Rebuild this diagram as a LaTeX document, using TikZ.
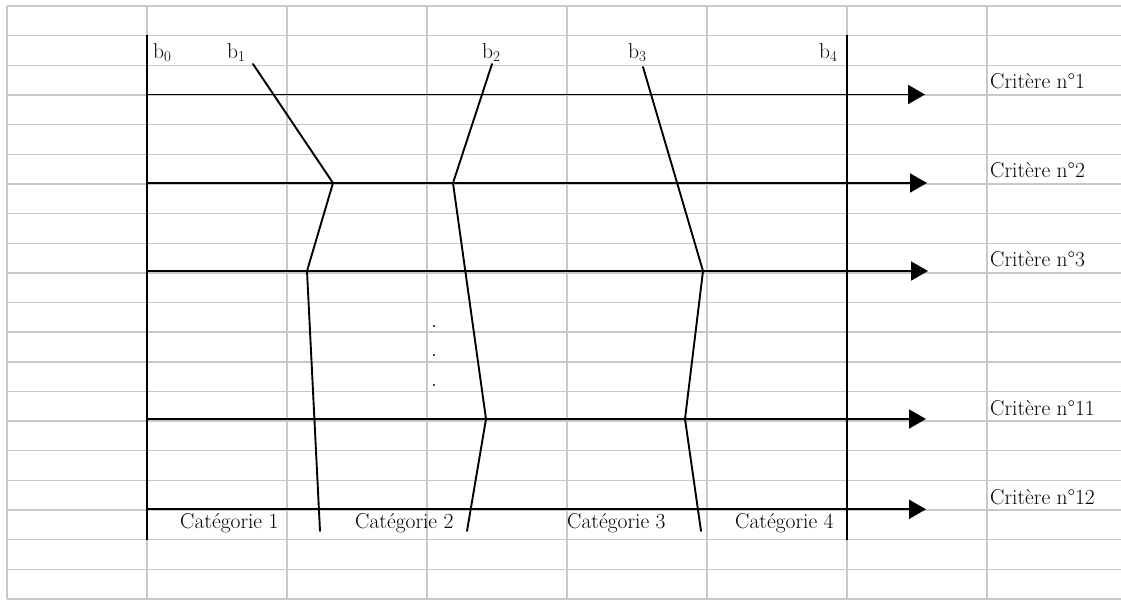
\documentclass[tikz,border=0pt]{standalone}
\usetikzlibrary{arrows.meta}
\begin{document}
\begin{tikzpicture}[x=1pt,y=-1pt,
  gridline/.style={draw={rgb,255:red,200;green,200;blue,200},line width=1.4pt},
  axis/.style={draw=black,line width=1.9pt},
  crit/.style={draw=black,line width=1.9pt,-{Triangle[length=17pt,width=19pt]}},
  brk/.style={draw=black,line width=1.9pt,line cap=round,line join=miter},
  lab/.style={inner sep=0pt,anchor=base west,font=\fontsize{21.5}{24}\selectfont},
  dotmark/.style={circle,fill=black,inner sep=0pt,minimum size=2.4pt}]
\useasboundingbox (0,0) rectangle (1121,600);
% spreadsheet grid
\foreach \k in {0,...,20}{
  \draw[gridline] (7,{6+29.65*\k}) -- (1121,{6+29.65*\k});
}
\foreach \xx in {7,147,287,427,567,707,847,987}{
  \draw[gridline] (\xx,6) -- (\xx,599);
}
% boundary verticals b0 and b4
\coordinate (b0top) at (147,34.5);
\coordinate (b0bot) at (147,540);
\coordinate (b4top) at (847,34.5);
\coordinate (b4bot) at (847,540);
\draw[axis] (b0top) -- (b0bot);
\draw[axis] (b4top) -- (b4bot);
% criteria arrows
\coordinate (c1s) at (147,94.5);  \coordinate (c1e) at (925,94.5);
\coordinate (c2s) at (147,183);   \coordinate (c2e) at (927,183);
\coordinate (c3s) at (147,271);   \coordinate (c3e) at (928,271);
\coordinate (c11s) at (147,419);  \coordinate (c11e) at (926,419);
\coordinate (c12s) at (147,509.3);\coordinate (c12e) at (926,509.3);
\draw[crit] (c1s) -- (c1e);
\draw[crit] (c2s) -- (c2e);
\draw[crit] (c3s) -- (c3e);
\draw[crit] (c11s) -- (c11e);
\draw[crit] (c12s) -- (c12e);
% break lines
\coordinate (p1a) at (253,64); \coordinate (p1b) at (333,183);
\coordinate (p1c) at (307,271); \coordinate (p1d) at (320,531);
\draw[brk] (p1a) -- (p1b) -- (p1c) -- (p1d);
\coordinate (p2a) at (492,64); \coordinate (p2b) at (453,183);
\coordinate (p2c) at (486,419); \coordinate (p2d) at (467,531);
\draw[brk] (p2a) -- (p2b) -- (p2c) -- (p2d);
\coordinate (p3a) at (643,67); \coordinate (p3b) at (703,271);
\coordinate (p3c) at (685,419); \coordinate (p3d) at (701,531);
\draw[brk] (p3a) -- (p3b) -- (p3c) -- (p3d);
% dots
\node[dotmark] (d1) at (434,326) {};
\node[dotmark] (d2) at (434,355) {};
\node[dotmark] (d3) at (434,385) {};
% labels
\node[lab] (lb0) at (153,58) {b\textsubscript{0}};
\node[lab] (lb1) at (227,58) {b\textsubscript{1}};
\node[lab] (lb2) at (482,58) {b\textsubscript{2}};
\node[lab] (lb3) at (628,58) {b\textsubscript{3}};
\node[lab] (lb4) at (819,58) {b\textsubscript{4}};
\node[lab] (k1) at (990,88) {Critère n°1};
\node[lab] (k2) at (990,177) {Critère n°2};
\node[lab] (k3) at (990,266) {Critère n°3};
\node[lab] (k11) at (990,415) {Critère n°11};
\node[lab] (k12) at (990,504) {Critère n°12};
\node[lab] (g1) at (180,528) {Catégorie 1};
\node[lab] (g2) at (355,528) {Catégorie 2};
\node[lab] (g3) at (567,528) {Catégorie 3};
\node[lab] (g4) at (735,528) {Catégorie 4};
\end{tikzpicture}
\end{document}
